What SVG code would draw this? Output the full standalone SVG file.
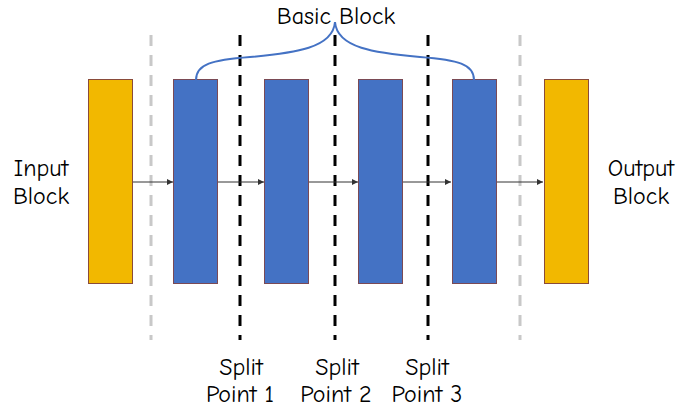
<svg xmlns="http://www.w3.org/2000/svg" width="697" height="410" viewBox="0 0 697 410">
  <defs>
    <marker id="arrow" viewBox="0 0 6 6" refX="6" refY="3" markerWidth="6" markerHeight="6" markerUnits="userSpaceOnUse" orient="auto">
      <path d="M0,0 L6,3 L0,6 Z" fill="#333333"/>
    </marker>
  </defs>
  <style>
    .io { fill: #F2B800; stroke: #8A4B3A; stroke-width: 1; }
    .blk { fill: #4472C4; stroke: #7A4A55; stroke-width: 1; }
    .guide { stroke: #C8C8C8; stroke-width: 3; stroke-dasharray: 11 9; fill: none; }
    .split { stroke: #000000; stroke-width: 3; stroke-dasharray: 11 9; fill: none; }
    .link { stroke: #333333; stroke-width: 1; fill: none; marker-end: url(#arrow); }
    .brace { stroke: #4472C4; stroke-width: 2; fill: none; }
    text { font-family: "Comic Sans MS", "Comic Neue", "Liberation Sans", sans-serif; font-size: 24px; fill: #000000; text-anchor: middle; }
  </style>
  <rect width="697" height="410" fill="#FFFFFF"/>

  <!-- boundary guides and split points -->
  <g id="guides">
    <line class="guide" x1="151" y1="35" x2="151" y2="340"/>
    <line class="guide" x1="520" y1="35" x2="520" y2="340"/>
    <line class="split" x1="240" y1="35" x2="240" y2="340"/>
    <line class="split" x1="335" y1="35" x2="335" y2="340"/>
    <line class="split" x1="428" y1="35" x2="428" y2="340"/>
  </g>

  <!-- connectors between blocks -->
  <g id="connectors">
    <line class="link" x1="132" y1="182" x2="173" y2="182"/>
    <line class="link" x1="217" y1="182" x2="264" y2="182"/>
    <line class="link" x1="308" y1="182" x2="358" y2="182"/>
    <line class="link" x1="402" y1="182" x2="451" y2="182"/>
    <line class="link" x1="496" y1="182" x2="543" y2="182"/>
  </g>

  <g id="input-block">
    <rect class="io" x="88.5" y="79.5" width="44" height="204"/>
    <text x="41" y="176">Input</text>
    <text x="41" y="204">Block</text>
  </g>
  <g id="basic-block-1"><rect class="blk" x="173.5" y="79.5" width="44" height="204"/></g>
  <g id="basic-block-2"><rect class="blk" x="264.5" y="79.5" width="44" height="204"/></g>
  <g id="basic-block-3"><rect class="blk" x="358.5" y="79.5" width="44" height="204"/></g>
  <g id="basic-block-4"><rect class="blk" x="452.5" y="79.5" width="44" height="204"/></g>
  <g id="output-block">
    <rect class="io" x="544.5" y="79.5" width="44" height="204"/>
    <text x="641" y="176">Output</text>
    <text x="641" y="204">Block</text>
  </g>

  <!-- brace grouping the basic blocks -->
  <g id="basic-block-label">
    <path class="brace" d="M196,80 C196,64 212,60 250,57 C295,53 333,48 335,22 C337,48 375,53 420,57 C458,60 474,64 474,80"/>
    <text x="336" y="24">Basic Block</text>
  </g>

  <g id="split-labels">
    <text x="241" y="375">Split</text>
    <text x="240" y="402">Point 1</text>
    <text x="337" y="375">Split</text>
    <text x="336" y="402">Point 2</text>
    <text x="427" y="375">Split</text>
    <text x="427" y="402">Point 3</text>
  </g>
</svg>
